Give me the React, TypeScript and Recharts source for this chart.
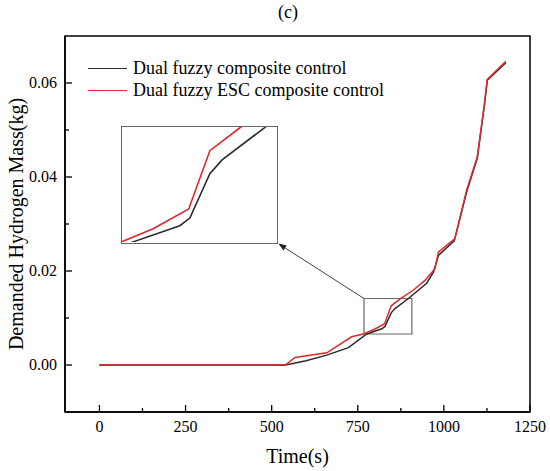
import { LineChart, Line, XAxis, YAxis, ReferenceArea, ReferenceLine } from "recharts";

// time (s) and demanded hydrogen mass (kg)
const fuzzyTime = [0, 540, 600, 660, 723, 776, 820, 829, 847, 858, 896, 950, 970, 984, 1030, 1066, 1097, 1118, 1126, 1180];
const fuzzyMass = [0, 0, 0.0009, 0.0021, 0.0037, 0.0066, 0.0077, 0.0082, 0.0111, 0.012, 0.0141, 0.0174, 0.0198, 0.0233, 0.0264, 0.0368, 0.044, 0.0555, 0.0606, 0.0643];

const escTime = [0, 540, 568, 660, 732, 766, 796, 828, 847, 874, 911, 945, 974, 984, 1032, 1066, 1097, 1118, 1126, 1180];
const escMass = [0, 0, 0.0016, 0.0026, 0.006, 0.0066, 0.0075, 0.0088, 0.0126, 0.0141, 0.0159, 0.018, 0.0205, 0.024, 0.0269, 0.0372, 0.0443, 0.0557, 0.0608, 0.0646];

const xTicks = [0, 125, 250, 375, 500, 625, 750, 875, 1000, 1125, 1250];
const yTicks = [0, 0.01, 0.02, 0.03, 0.04, 0.05, 0.06];

// zoomed window and where the inset sits (data units of the main chart)
const zoomX = [768, 907];
const zoomY = [0.0066, 0.01415];
const insetCorner = [519.5, 0.02583];

const fuzzyData = fuzzyTime.map((t, i) => ({ t, m: fuzzyMass[i] }));
const escData = escTime.map((t, i) => ({ t, m: escMass[i] }));

const FONT = '"Liberation Serif", "Times New Roman", serif';
const BLACK = "#2b2b2b";
const RED = "#e0282e";

const XTick = (props: any) => {
  const { x, y, payload } = props;
  const major = payload.value % 250 === 0;
  return (
    <g>
      <line x1={x} x2={x} y1={y} y2={y - (major ? 7 : 4)} stroke="#000" strokeWidth={1.3} />
      {major && (
        <text x={x} y={y + 20} textAnchor="middle" fill="#000" style={{ fontSize: 16, fontFamily: FONT }}>
          {payload.value}
        </text>
      )}
    </g>
  );
};

const YTick = (props: any) => {
  const { x, y, payload } = props;
  const major = Math.round(payload.value * 100) % 2 === 0;
  return (
    <g>
      <line x1={x} x2={x + (major ? 7 : 4)} y1={y} y2={y} stroke="#000" strokeWidth={1.3} />
      {major && (
        <text x={x - 8} y={y + 5} textAnchor="end" fill="#000" style={{ fontSize: 16, fontFamily: FONT }}>
          {payload.value.toFixed(2)}
        </text>
      )}
    </g>
  );
};

const Arrow = (props: any) => {
  const { x1, y1, x2, y2 } = props;
  const a = Math.atan2(y2 - y1, x2 - x1);
  const len = 8;
  const w = 3;
  const bx = x2 - len * Math.cos(a);
  const by = y2 - len * Math.sin(a);
  const px = -Math.sin(a) * w;
  const py = Math.cos(a) * w;
  return (
    <g>
      <line x1={x1} y1={y1} x2={bx} y2={by} stroke="#444" strokeWidth={1} />
      <polygon points={`${x2},${y2} ${bx + px},${by + py} ${bx - px},${by - py}`} fill="#222" />
    </g>
  );
};

export default function App() {
  return (
    <div style={{ position: "absolute", left: 0, top: 0, width: 550, height: 471, background: "#fff", fontFamily: FONT }}>
      <div style={{ position: "absolute", left: 0, width: 576, top: 2, textAlign: "center", fontSize: 18 }}>(c)</div>

      <LineChart width={550} height={471} data={fuzzyData} margin={{ top: 36, right: 20, bottom: 4, left: 5 }}>
        <XAxis
          dataKey="t"
          type="number"
          domain={[-100, 1250]}
          ticks={xTicks}
          interval={0}
          tickSize={0}
          tickMargin={0}
          tick={XTick}
          axisLine={{ stroke: "#000", strokeWidth: 1.5 }}
          height={55}
          label={{ value: "Time(s)", position: "insideBottom", offset: 4, fontSize: 20, fontFamily: FONT, fill: "#000" }}
        />
        <YAxis
          type="number"
          domain={[-0.01, 0.07]}
          ticks={yTicks}
          interval={0}
          tickSize={0}
          tickMargin={0}
          tick={YTick}
          axisLine={{ stroke: "#000", strokeWidth: 1.5 }}
          width={60}
          label={{
            value: "Demanded Hydrogen Mass(kg)",
            angle: -90,
            position: "insideLeft",
            offset: 11,
            fontSize: 20,
            fontFamily: FONT,
            fill: "#000",
            style: { textAnchor: "middle" },
          }}
        />
        <ReferenceArea x1={-100} x2={1250} y1={-0.01} y2={0.07} fill="none" stroke="#000" strokeWidth={1.5} />
        <ReferenceArea x1={zoomX[0]} x2={zoomX[1]} y1={zoomY[0]} y2={zoomY[1]} fill="none" stroke="#666" strokeWidth={1.2} />
        <Line data={fuzzyData} dataKey="m" stroke={BLACK} strokeWidth={1.5} dot={false} isAnimationActive={false} />
        <Line data={escData} dataKey="m" stroke={RED} strokeWidth={1.5} dot={false} isAnimationActive={false} />
        <ReferenceLine
          segment={[
            { x: zoomX[0], y: zoomY[1] },
            { x: insetCorner[0], y: insetCorner[1] },
          ]}
          shape={Arrow}
        />
      </LineChart>

      {/* legend */}
      <div style={{ position: "absolute", left: 88, top: 58, fontSize: 18, lineHeight: "21.7px", color: "#000" }}>
        <div style={{ display: "flex", alignItems: "center", whiteSpace: "nowrap" }}>
          <span style={{ display: "inline-block", width: 39, height: 0, borderTop: `1.5px solid ${BLACK}`, marginRight: 6 }} />
          Dual fuzzy composite control
        </div>
        <div style={{ display: "flex", alignItems: "center", whiteSpace: "nowrap" }}>
          <span style={{ display: "inline-block", width: 39, height: 0, borderTop: `1.5px solid ${RED}`, marginRight: 6 }} />
          Dual fuzzy ESC composite control
        </div>
      </div>

      {/* inset: magnified view of the boxed region */}
      <div style={{ position: "absolute", left: 121, top: 125.5, width: 157, height: 118, border: "1.2px solid #666", boxSizing: "border-box", background: "#fff" }}>
        <LineChart width={154.6} height={115.6} data={fuzzyData} margin={{ top: 0, right: 0, bottom: 0, left: 0 }}>
          <XAxis dataKey="t" type="number" domain={zoomX} allowDataOverflow hide />
          <YAxis type="number" domain={zoomY} allowDataOverflow hide />
          <Line data={fuzzyData} dataKey="m" stroke={BLACK} strokeWidth={1.6} dot={false} isAnimationActive={false} />
          <Line data={escData} dataKey="m" stroke={RED} strokeWidth={1.6} dot={false} isAnimationActive={false} />
        </LineChart>
      </div>
    </div>
  );
}
